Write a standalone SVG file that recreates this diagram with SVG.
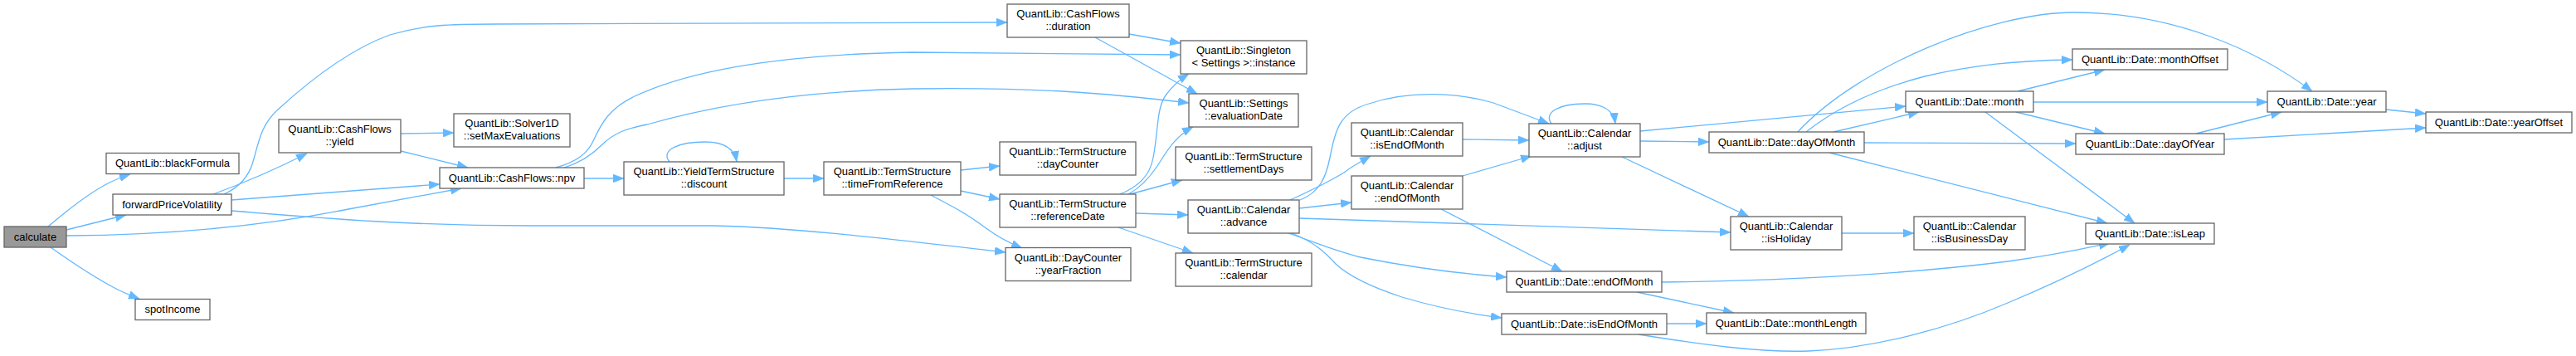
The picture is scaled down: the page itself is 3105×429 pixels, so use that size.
<svg xmlns="http://www.w3.org/2000/svg" width="3105" height="429" viewBox="0 0 3105 429">
<style>
.n rect{fill:#fff;stroke:#666;stroke-width:1.3}
.n.root rect{fill:#999}
text{font-family:"Liberation Sans",Arial,Helvetica,sans-serif;font-size:13px;text-anchor:middle;fill:#000}
.e path{fill:none;stroke:#63b8ff;stroke-width:1.3;marker-end:url(#ah)}
</style>
<defs>
<marker id="ah" viewBox="0 0 13 10" refX="13" refY="5" markerWidth="13" markerHeight="10" markerUnits="userSpaceOnUse" orient="auto">
<path d="M0,0 L13,5 L0,10 z" fill="#63b8ff" stroke="#63b8ff" stroke-width="0.5"/>
</marker>
</defs>
<rect width="3105" height="429" fill="#fff"/>
<g id="edges" class="e">
<path d="M58,273 C78,256 105,234 130,221 C138,217 147,213 157,210"/>
<path d="M80,277 L152,259"/>
<path d="M80,284 C220,283 330,270 420,252 L556,227"/>
<path d="M61,298 C85,315 115,335 140,348 C150,353 160,357 168,360"/>
<path d="M257,234 C290,222 330,205 370,185"/>
<path d="M270,234 C290,225 300,212 305,195 C312,170 315,150 335,132 C370,100 420,60 470,42 C510,30 540,29 600,29 L1214,27"/>
<path d="M279,241 L530,222"/>
<path d="M279,254 C400,264 500,272 640,272 L860,272 C950,274 1050,285 1212,304"/>
<path d="M483,161 L547,160"/>
<path d="M483,182 L564,202"/>
<path d="M704,215 L752,215"/>
<path d="M670,202 C695,195 708,185 715,170 C725,148 735,130 765,116 C820,90 920,66 1100,63 L1423,66"/>
<path d="M680,202 C700,196 715,185 725,175 C740,160 755,155 780,150 C850,130 950,110 1100,107 C1250,105 1330,112 1433,124"/>
<path d="M807,195 C795,180 820,171 850,171 C870,171 885,178 888,195"/>
<path d="M945,215 L993,215"/>
<path d="M1158,205 L1205,200"/>
<path d="M1158,230 L1205,240"/>
<path d="M1122,235 L1150,250 C1165,258 1175,265 1190,276 C1205,287 1215,292 1232,299"/>
<path d="M1361,41 L1423,52"/>
<path d="M1320,45 L1443,113"/>
<path d="M1350,234 C1372,225 1386,212 1390,190 C1396,160 1394,130 1405,115 C1412,105 1420,97 1433,89"/>
<path d="M1360,234 C1375,226 1385,215 1395,200 C1405,185 1415,165 1438,153"/>
<path d="M1362,234 L1425,217"/>
<path d="M1369,257 L1432,259"/>
<path d="M1348,274 L1438,305"/>
<path d="M1555,241 C1575,232 1600,220 1620,208 C1630,200 1640,195 1652,188"/>
<path d="M1567,241 C1590,232 1598,215 1603,190 C1610,155 1615,135 1650,125 C1700,108 1760,112 1800,124 L1867,149"/>
<path d="M1566,251 L1629,244"/>
<path d="M1566,263 L2086,280"/>
<path d="M1553,281 C1580,290 1610,303 1640,310 C1700,322 1760,330 1816,334"/>
<path d="M1557,281 C1585,292 1598,305 1610,318 C1625,332 1650,345 1690,358 C1730,370 1770,378 1810,383"/>
<path d="M1763,168 L1843,169"/>
<path d="M1763,212 L1846,188"/>
<path d="M1737,252 L1883,327"/>
<path d="M1870,149 C1860,135 1880,125 1910,125 C1930,125 1945,132 1947,149"/>
<path d="M1977,170 L2060,171"/>
<path d="M1955,189 L2108,261"/>
<path d="M1977,158 L2297,128"/>
<path d="M2210,159 L2313,135"/>
<path d="M2167,159 C2240,80 2400,15 2500,15 C2620,15 2720,60 2787,110"/>
<path d="M2177,159 C2220,125 2270,105 2320,92 C2380,78 2430,73 2498,72"/>
<path d="M2247,172 L2502,173"/>
<path d="M2205,184 L2540,269"/>
<path d="M2220,281 L2307,281"/>
<path d="M2003,340 C2150,338 2300,330 2420,315 C2480,307 2510,300 2543,293"/>
<path d="M1973,352 L2090,377"/>
<path d="M2009,390 L2057,390"/>
<path d="M1975,403 C2050,415 2120,425 2180,423 C2260,420 2350,395 2420,365 C2480,340 2530,315 2567,295"/>
<path d="M2432,110 L2537,84"/>
<path d="M2451,123 L2733,123"/>
<path d="M2430,135 L2537,161"/>
<path d="M2393,135 L2573,269"/>
<path d="M2647,161 L2750,135"/>
<path d="M2681,168 L2924,154"/>
<path d="M2876,132 L2924,137"/>
</g>
<g id="calculate" class="n root"><rect x="5" y="273" width="75" height="25"/><text x="42.5" y="289.5">calculate</text></g>
<g id="blackFormula" class="n"><rect x="128" y="184.5" width="160" height="25"/><text x="208" y="201">QuantLib::blackFormula</text></g>
<g id="forwardPriceVolatility" class="n"><rect x="136" y="234" width="143" height="25"/><text x="207.5" y="250.5">forwardPriceVolatility</text></g>
<g id="spotIncome" class="n"><rect x="163" y="360.5" width="90" height="25"/><text x="208" y="377">spotIncome</text></g>
<g id="yield" class="n"><rect x="336" y="144" width="147" height="40"/><text x="409.5" y="160">QuantLib::CashFlows</text><text x="409.5" y="175">::yield</text></g>
<g id="setMaxEvaluations" class="n"><rect x="547" y="137" width="140" height="40"/><text x="617" y="153">QuantLib::Solver1D</text><text x="617" y="168">::setMaxEvaluations</text></g>
<g id="npv" class="n"><rect x="530" y="202" width="174" height="25"/><text x="617" y="218.5">QuantLib::CashFlows::npv</text></g>
<g id="discount" class="n"><rect x="752" y="195" width="193" height="40"/><text x="848.5" y="211">QuantLib::YieldTermStructure</text><text x="848.5" y="226">::discount</text></g>
<g id="timeFromReference" class="n"><rect x="993" y="195" width="165" height="40"/><text x="1075.5" y="211">QuantLib::TermStructure</text><text x="1075.5" y="226">::timeFromReference</text></g>
<g id="duration" class="n"><rect x="1214" y="5" width="147" height="40"/><text x="1287.5" y="21">QuantLib::CashFlows</text><text x="1287.5" y="36">::duration</text></g>
<g id="instance" class="n"><rect x="1423" y="49" width="152" height="40"/><text x="1499" y="65">QuantLib::Singleton</text><text x="1499" y="80">&lt; Settings &gt;::instance</text></g>
<g id="evaluationDate" class="n"><rect x="1433" y="113" width="132" height="40"/><text x="1499" y="129">QuantLib::Settings</text><text x="1499" y="144">::evaluationDate</text></g>
<g id="dayCounter" class="n"><rect x="1205" y="171" width="164" height="40"/><text x="1287" y="187">QuantLib::TermStructure</text><text x="1287" y="202">::dayCounter</text></g>
<g id="settlementDays" class="n"><rect x="1417" y="177" width="164" height="40"/><text x="1499" y="193">QuantLib::TermStructure</text><text x="1499" y="208">::settlementDays</text></g>
<g id="referenceDate" class="n"><rect x="1205" y="234" width="164" height="40"/><text x="1287" y="250">QuantLib::TermStructure</text><text x="1287" y="265">::referenceDate</text></g>
<g id="advance" class="n"><rect x="1432" y="241" width="134" height="40"/><text x="1499" y="257">QuantLib::Calendar</text><text x="1499" y="272">::advance</text></g>
<g id="yearFraction" class="n"><rect x="1212" y="298.5" width="151" height="40"/><text x="1287.5" y="314.5">QuantLib::DayCounter</text><text x="1287.5" y="329.5">::yearFraction</text></g>
<g id="calendar" class="n"><rect x="1417" y="305" width="164" height="40"/><text x="1499" y="321">QuantLib::TermStructure</text><text x="1499" y="336">::calendar</text></g>
<g id="calIsEndOfMonth" class="n"><rect x="1629" y="148" width="134" height="40"/><text x="1696" y="164">QuantLib::Calendar</text><text x="1696" y="179">::isEndOfMonth</text></g>
<g id="calEndOfMonth" class="n"><rect x="1629" y="212" width="134" height="40"/><text x="1696" y="228">QuantLib::Calendar</text><text x="1696" y="243">::endOfMonth</text></g>
<g id="adjust" class="n"><rect x="1843" y="149" width="134" height="40"/><text x="1910" y="165">QuantLib::Calendar</text><text x="1910" y="180">::adjust</text></g>
<g id="dateEndOfMonth" class="n"><rect x="1816" y="327" width="187" height="25"/><text x="1909.5" y="343.5">QuantLib::Date::endOfMonth</text></g>
<g id="dateIsEndOfMonth" class="n"><rect x="1810" y="378" width="199" height="25"/><text x="1909.5" y="394.5">QuantLib::Date::isEndOfMonth</text></g>
<g id="dayOfMonth" class="n"><rect x="2060" y="159" width="187" height="25"/><text x="2153.5" y="175.5">QuantLib::Date::dayOfMonth</text></g>
<g id="isHoliday" class="n"><rect x="2086" y="261" width="134" height="40"/><text x="2153" y="277">QuantLib::Calendar</text><text x="2153" y="292">::isHoliday</text></g>
<g id="monthLength" class="n"><rect x="2057" y="377" width="192" height="25"/><text x="2153" y="393.5">QuantLib::Date::monthLength</text></g>
<g id="monthOffset" class="n"><rect x="2498" y="59" width="187" height="25"/><text x="2591.5" y="75.5">QuantLib::Date::monthOffset</text></g>
<g id="month" class="n"><rect x="2297" y="110" width="154" height="25"/><text x="2374" y="126.5">QuantLib::Date::month</text></g>
<g id="dayOfYear" class="n"><rect x="2502" y="161" width="179" height="25"/><text x="2591.5" y="177.5">QuantLib::Date::dayOfYear</text></g>
<g id="isBusinessDay" class="n"><rect x="2307" y="261" width="134" height="40"/><text x="2374" y="277">QuantLib::Calendar</text><text x="2374" y="292">::isBusinessDay</text></g>
<g id="isLeap" class="n"><rect x="2514" y="269" width="155" height="25"/><text x="2591.5" y="285.5">QuantLib::Date::isLeap</text></g>
<g id="year" class="n"><rect x="2733" y="110" width="143" height="25"/><text x="2804.5" y="126.5">QuantLib::Date::year</text></g>
<g id="yearOffset" class="n"><rect x="2924" y="135" width="176" height="25"/><text x="3012" y="151.5">QuantLib::Date::yearOffset</text></g>
</svg>
